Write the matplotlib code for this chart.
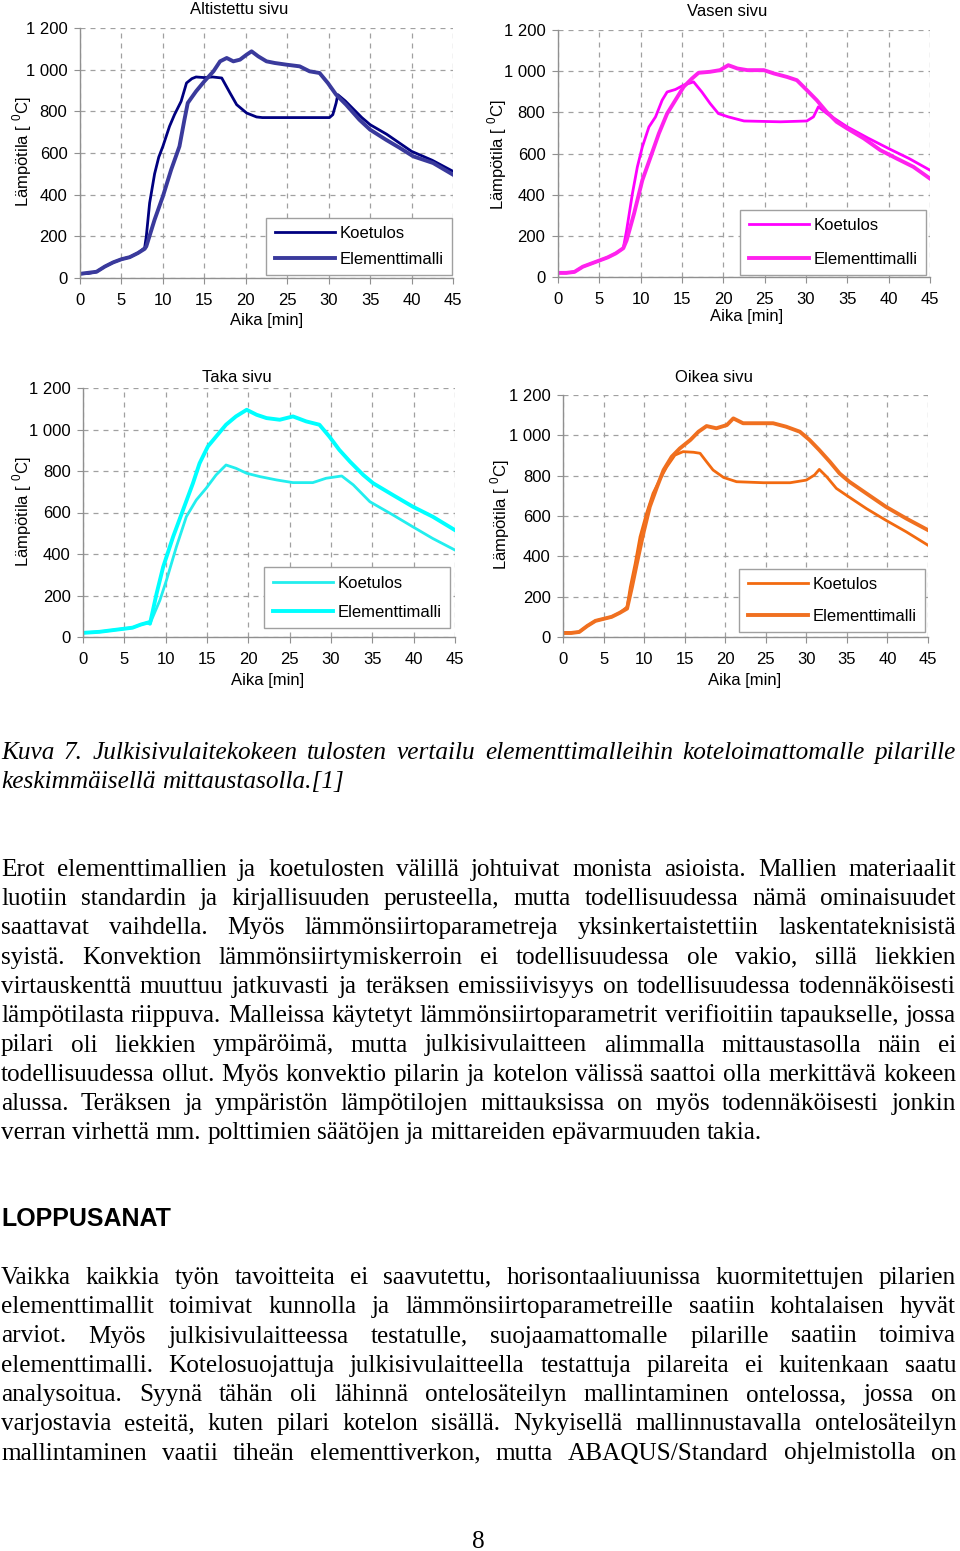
import matplotlib
matplotlib.use("Agg")
from matplotlib import pyplot as plt
from matplotlib.ticker import FuncFormatter

W, H = 960, 1551

# --- data (time [min], temperature [C]) ---
alt_koe_t = [0, 1, 2, 3, 4, 5, 6, 7, 7.8, 8.0, 8.4, 9, 9.5, 10, 10.8, 11.4, 12.2, 12.85, 13.5, 14, 15, 16, 17.1,
             18.1, 18.9, 20.1, 21.3, 22, 24, 26, 28, 30.1, 30.5, 30.9, 31.1, 32, 33, 34, 35, 37, 40, 42.5, 45]
alt_koe_T = [20, 22, 30, 55, 75, 90, 100, 120, 145, 200, 360, 500, 580, 632, 728, 784, 848, 936, 957, 965, 962, 965, 960,
             888, 832, 792, 773, 770, 770, 770, 770, 770, 784, 840, 880, 850, 810, 770, 736, 690, 608, 565, 512]
alt_elem_t = [0, 1, 2, 3, 4, 5, 6, 7, 7.8, 8, 9, 10, 11, 12, 12.6, 13, 14, 15, 16.1, 16.9, 17.7, 18.5, 19.3, 20.1,
              20.7, 21.5, 22.5, 23.5, 24.9, 26.5, 27.7, 28.9, 29.9, 30.9, 32.1, 33.7, 35, 36.9, 38.6, 40.2, 42.6, 45]
alt_elem_T = [20, 25, 30, 55, 75, 90, 100, 120, 140, 152, 280, 392, 520, 632, 760, 840, 896, 944, 992, 1040, 1056, 1040,
              1048, 1072, 1088, 1064, 1040, 1032, 1024, 1016, 992, 984, 936, 880, 832, 760, 712, 664, 624, 584, 552, 496]

vas_koe_t = [0, 1, 2, 3, 4, 5, 6, 7, 7.9, 8.3, 9, 9.6, 10.2, 11, 11.8, 12.6, 13.2, 14.2, 15.2, 16.4, 17.4, 18.4,
             19.4, 20.6, 22.5, 26.9, 30.1, 30.9, 31.5, 32.5, 35, 37.5, 40, 42.5, 45]
vas_koe_T = [20, 20, 25, 50, 65, 80, 95, 115, 140, 227, 405, 535, 632, 729, 778, 859, 899, 911, 932, 948, 899, 843,
             794, 778, 758, 754, 758, 778, 827, 795, 729, 675, 624, 575, 519]
vas_elem_t = [0, 1, 2, 3, 4, 5, 6, 7, 7.9, 8.3, 9.2, 10.2, 11.2, 12.2, 13.2, 14.2, 15.2, 16.2, 17, 18.4, 19.6, 20.6,
              21.7, 22.9, 24.9, 26.1, 27.7, 28.9, 30.1, 31.3, 32.5, 33.7, 35, 37, 39, 41, 43, 45]
vas_elem_T = [20, 20, 25, 50, 65, 80, 95, 115, 140, 178, 308, 470, 583, 697, 794, 859, 924, 964, 992, 997, 1005, 1029,
              1013, 1005, 1005, 989, 972, 956, 908, 859, 802, 754, 721, 673, 616, 575, 535, 478]

tak_koe_t = [0, 2, 4, 6, 7, 7.9, 8.1, 9.3, 10.1, 11.3, 12.5, 13.7, 14.9, 16.1, 17.3, 18.5, 19.8, 21.4, 23.4, 25.4,
             27.8, 29.4, 31.3, 32.7, 34.7, 37.5, 39.9, 42.3, 45]
tak_koe_T = [20, 25, 35, 45, 60, 70, 64, 177, 274, 435, 580, 660, 717, 781, 829, 813, 789, 773, 757, 744,
             744, 765, 776, 733, 652, 588, 531, 475, 419]
tak_elem_t = [0, 2, 4, 6, 7, 7.9, 8.1, 8.9, 9.7, 10.9, 12.1, 13.3, 14.1, 15.1, 16.1, 17.3, 18.5, 19.8, 21, 22.2,
              23.8, 25.4, 27, 28.6, 29.8, 31, 32.3, 33.9, 35.1, 37.5, 39.9, 42.3, 45]
tak_elem_T = [20, 25, 35, 45, 60, 70, 64, 209, 338, 483, 612, 741, 837, 918, 966, 1023, 1063, 1095, 1071, 1055,
              1047, 1063, 1039, 1023, 966, 902, 845, 781, 741, 684, 628, 580, 515]

oik_koe_t = [0, 1, 2, 3, 4, 5, 6, 7, 7.9, 8.3, 8.9, 9.5, 10.3, 11.1, 12, 12.8, 13.8, 14.8, 16.1, 16.9, 17.7, 18.5,
             19.8, 21.4, 24.7, 28, 30, 31, 31.6, 32.5, 33.7, 34.9, 37.4, 39.8, 42.3, 45]
oik_koe_T = [20, 20, 25, 55, 80, 90, 100, 120, 149, 248, 364, 497, 613, 712, 786, 844, 902, 919, 916, 911, 869, 828,
             791, 770, 765, 765, 778, 803, 831, 795, 737, 704, 637, 579, 522, 455]
oik_elem_t = [0, 1, 2, 3, 4, 5, 6, 7, 7.9, 8.5, 9.1, 9.9, 10.7, 11.6, 12.4, 13.4, 14.4, 15.7, 16.7, 17.7, 18.9,
              20.2, 21, 22.2, 23.9, 25.9, 27.5, 29.2, 30.4, 31.6, 32.9, 34.1, 35.3, 37.4, 39.8, 42.3, 45]
oik_elem_T = [20, 20, 25, 55, 80, 90, 100, 120, 141, 248, 364, 513, 646, 745, 828, 894, 935, 977, 1018, 1046, 1035,
              1051, 1084, 1060, 1060, 1060, 1043, 1018, 977, 927, 869, 811, 770, 712, 646, 588, 530]

titles = ["Altistettu sivu", "Vasen sivu", "Taka sivu", "Oikea sivu"]
legend_labels = ["Koetulos", "Elementtimalli"]
x_ticks = [0, 5, 10, 15, 20, 25, 30, 35, 40, 45]
y_ticks = [0, 200, 400, 600, 800, 1000, 1200]

series = [
    (alt_koe_t, alt_koe_T, alt_elem_t, alt_elem_T),
    (vas_koe_t, vas_koe_T, vas_elem_t, vas_elem_T),
    (tak_koe_t, tak_koe_T, tak_elem_t, tak_elem_T),
    (oik_koe_t, oik_koe_T, oik_elem_t, oik_elem_T),
]
colors = [("#000080", "#3a3a9c"), ("#ff00ff", "#ff22ee"), ("#22eeee", "#00ffff"), ("#f26a10", "#f07020")]

# plot area in pixels: left, top, right, bottom
boxes = [(80, 28, 453, 278), (558, 30, 930, 277), (83, 388, 455, 637), (563, 395, 928, 637)]
title_px = [(239, 10), (727, 12), (237, 377), (714, 377)]
xlab_px = [(267, 321), (747, 316), (268, 681), (745, 681)]
ylab_px = [(22, 152), (497, 155), (22, 512), (500, 515)]
leg_px = [(452, 275, 0.62), (926, 275, 1.1), (450, 628, 0.85), (925, 632, 1.0)]

fig = plt.figure(figsize=(W / 100, H / 100), dpi=100)
chart_font = "Liberation Sans"


def thousands(v, pos):
    return f"{int(v):,}".replace(",", " ")


for i in range(4):
    l, t, r, b = boxes[i]
    ax = fig.add_axes([l / W, 1 - b / H, (r - l) / W, (b - t) / H])
    kt, kT, et, eT = series[i]
    ax.plot(kt, kT, color=colors[i][0], lw=2.0, label=legend_labels[0])
    ax.plot(et, eT, color=colors[i][1], lw=2.8, label=legend_labels[1])
    ax.set_xlim(0, 45)
    ax.set_ylim(0, 1200)
    ax.set_xticks(x_ticks)
    ax.set_yticks(y_ticks)
    ax.yaxis.set_major_formatter(FuncFormatter(thousands))
    ax.grid(True, color="#a0a0a0", linestyle=(0, (4, 4)), lw=0.9)
    ax.set_axisbelow(True)
    for s in ["top", "right"]:
        ax.spines[s].set_visible(False)
    for s in ["left", "bottom"]:
        ax.spines[s].set_color("#909090")
        ax.spines[s].set_linewidth(1.0)
    ax.tick_params(direction="out", length=4, color="#909090", labelsize=12, pad=5)
    ax.tick_params(axis="x", pad=7)
    for lab in ax.get_xticklabels() + ax.get_yticklabels():
        lab.set_fontfamily(chart_font)

    tx, ty = title_px[i]
    ax.text((tx - l) / (r - l), (b - ty) / (b - t), titles[i], transform=ax.transAxes,
            ha="center", va="center", fontsize=12, family=chart_font)
    ax.set_xlabel("Aika [min]", fontsize=12, family=chart_font, va="center")
    xx, xy = xlab_px[i]
    ax.xaxis.set_label_coords((xx - l) / (r - l), (b - xy) / (b - t))
    ax.set_ylabel("Lämpötila [ $^{\\mathregular{0}}$C]", fontsize=12, family=chart_font, va="center")
    yx, yy = ylab_px[i]
    ax.yaxis.set_label_coords((yx - l) / (r - l), (b - yy) / (b - t))

    lx, ly, sp = leg_px[i]
    leg = ax.legend(loc="lower right", bbox_to_anchor=((lx - l) / (r - l), (b - ly) / (b - t)),
                    borderaxespad=0, handlelength=3.6, handletextpad=0.3,
                    borderpad=0.5, labelspacing=sp, fancybox=False, framealpha=1,
                    prop={"family": chart_font, "size": 12})
    leg.get_frame().set_edgecolor("#a0a0a0")
    leg.get_frame().set_linewidth(1.0)

# --- page text ---
caption = [
    "Kuva 7. Julkisivulaitekokeen tulosten vertailu elementtimalleihin koteloimattomalle pilarille",
    "keskimmäisellä mittaustasolla.[1]",
]
para1 = [
    "Erot elementtimallien ja koetulosten välillä johtuivat monista asioista. Mallien materiaalit",
    "luotiin standardin ja kirjallisuuden perusteella, mutta todellisuudessa nämä ominaisuudet",
    "saattavat vaihdella. Myös lämmönsiirtoparametreja yksinkertaistettiin laskentateknisistä",
    "syistä. Konvektion lämmönsiirtymiskerroin ei todellisuudessa ole vakio, sillä liekkien",
    "virtauskenttä muuttuu jatkuvasti ja teräksen emissiivisyys on todellisuudessa todennäköisesti",
    "lämpötilasta riippuva. Malleissa käytetyt lämmönsiirtoparametrit verifioitiin tapaukselle, jossa",
    "pilari oli liekkien ympäröimä, mutta julkisivulaitteen alimmalla mittaustasolla näin ei",
    "todellisuudessa ollut. Myös konvektio pilarin ja kotelon välissä saattoi olla merkittävä kokeen",
    "alussa. Teräksen ja ympäristön lämpötilojen mittauksissa on myös todennäköisesti jonkin",
    "verran virhettä mm. polttimien säätöjen ja mittareiden epävarmuuden takia.",
]
heading = "LOPPUSANAT"
para2 = [
    "Vaikka kaikkia työn tavoitteita ei saavutettu, horisontaaliuunissa kuormitettujen pilarien",
    "elementtimallit toimivat kunnolla ja lämmönsiirtoparametreille saatiin kohtalaisen hyvät",
    "arviot. Myös julkisivulaitteessa testatulle, suojaamattomalle pilarille saatiin toimiva",
    "elementtimalli. Kotelosuojattuja julkisivulaitteella testattuja pilareita ei kuitenkaan saatu",
    "analysoitua. Syynä tähän oli lähinnä ontelosäteilyn mallintaminen ontelossa, jossa on",
    "varjostavia esteitä, kuten pilari kotelon sisällä. Nykyisellä mallinnustavalla ontelosäteilyn",
    "mallintaminen vaatii tiheän elementtiverkon, mutta ABAQUS/Standard ohjelmistolla on",
]
page_no = "8"

LEFT, RIGHT = 1, 956
BODY_FS = 18.2
LINE = 29.25
renderer = fig.canvas.get_renderer()


def put_line(line, y, justify=True, style="normal"):
    words = line.split()
    texts = [fig.text(0, 1 - y / H, w, fontsize=BODY_FS, family="Liberation Serif",
                      style=style, va="baseline", ha="left") for w in words]
    widths = [tt.get_window_extent(renderer).width for tt in texts]
    if justify and len(words) > 1:
        gap = (RIGHT - LEFT - sum(widths)) / (len(words) - 1)
    else:
        gap = BODY_FS * 0.25 * 100 / 72
    x = LEFT
    for tt, wd in zip(texts, widths):
        tt.set_x(x / W)
        x += wd + gap


for k, line in enumerate(caption):
    put_line(line, 759 + k * LINE, justify=(k < len(caption) - 1), style="italic")

for k, line in enumerate(para1):
    put_line(line, 876 + k * LINE, justify=(k < len(para1) - 1))

fig.text(LEFT / W, 1 - 1226 / H, heading, fontsize=18, family="Liberation Sans",
         weight="bold", va="baseline", ha="left")

for k, line in enumerate(para2):
    put_line(line, 1284 + k * LINE, justify=True)

fig.text(478 / W, 1 - 1548 / H, page_no, fontsize=BODY_FS, family="Liberation Serif",
         va="baseline", ha="center")

fig.savefig("out.png", dpi=100)
